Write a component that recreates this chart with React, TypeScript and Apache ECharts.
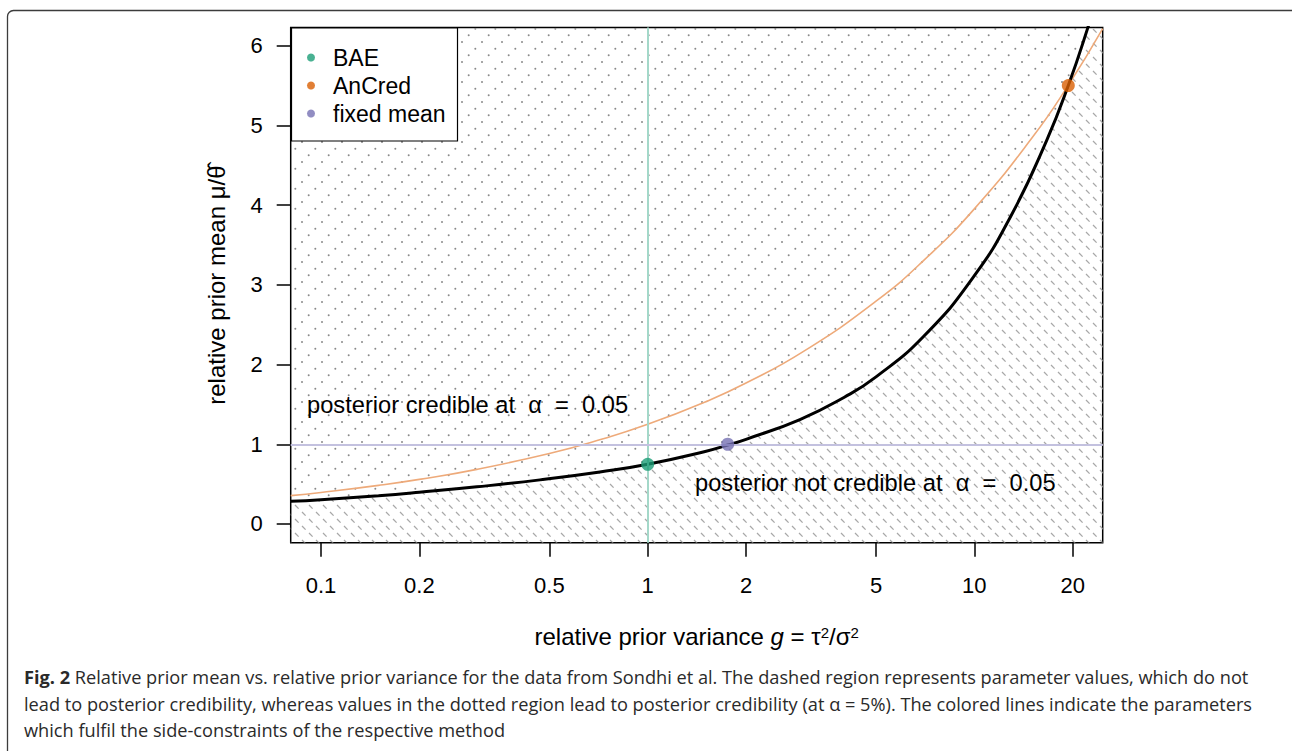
import React, { useEffect, useRef } from 'react';
import * as echarts from 'echarts';

const FONT = 'Liberation Sans, Arial, Helvetica, sans-serif';
const CAPTION_FONT = 'Open Sans, Noto Sans, sans-serif';

// axis extents (relative prior variance g on log scale, relative prior mean)
const xMin = 0.08077;
const xMax = 24.71;
const yMin = -0.235;
const yMax = 6.228;
const xTicks = [0.1, 0.2, 0.5, 1, 2, 5, 10, 20];
const yTicks = [0, 1, 2, 3, 4, 5, 6];

// credibility boundary (black curve)
const boundaryG = [0.08077, 0.1, 0.15, 0.2, 0.3, 0.468, 0.714, 1, 1.5, 1.758, 2, 2.925, 4, 5, 7, 10, 13, 16.64, 19.39, 22.23, 24.71];
const boundaryM = [0.285, 0.305, 0.355, 0.398, 0.466, 0.553, 0.652, 0.749, 0.91, 0.99, 1.062, 1.31, 1.59, 1.845, 2.355, 3.115, 3.88, 4.81, 5.5, 6.22, 6.84];

// AnCred side-constraint (orange curve)
const ancredG = [0.08077, 0.1, 0.15, 0.2, 0.3, 0.5, 0.7, 1, 1.5, 2, 3, 5, 7, 10, 15, 19.39, 24.71];
const ancredM = [0.355, 0.395, 0.484, 0.559, 0.685, 0.884, 1.046, 1.25, 1.531, 1.768, 2.165, 2.795, 3.307, 3.953, 4.841, 5.504, 6.214];

// method points
const baePoint = [1, 0.749];
const ancredPoint = [19.39, 5.5];
const fixedPoint = [1.758, 1.0];
const baeLineG = 1;
const fixedLineM = 1;

const COLORS = { bae: '#1B9E77', ancred: '#D95F02', fixed: '#7570B3' };

const captionLines = [
  '{b|Fig. 2} Relative prior mean vs. relative prior variance for the data from Sondhi et al. The dashed region represents parameter values, which do not',
  'lead to posterior credibility, whereas values in the dotted region lead to posterior credibility (at α = 5%). The colored lines indicate the parameters',
  'which fulfil the side-constraints of the respective method',
];

function dotTile() {
  const c = document.createElement('canvas');
  c.width = 20;
  c.height = 20;
  const ctx = c.getContext('2d')!;
  ctx.fillStyle = '#8a8a8a';
  const pts = [[2, 2], [15.33, 8.67], [8.67, 15.33]];
  pts.forEach(([x, y]) => {
    ctx.beginPath();
    ctx.arc(x, y, 1, 0, Math.PI * 2);
    ctx.fill();
  });
  return c;
}

function dashTile() {
  const c = document.createElement('canvas');
  c.width = 14;
  c.height = 14;
  const ctx = c.getContext('2d')!;
  ctx.strokeStyle = '#a8a8a8';
  ctx.lineWidth = 1.3;
  ctx.beginPath();
  ctx.moveTo(1, 1);
  ctx.lineTo(4.6, 4.6);
  ctx.moveTo(8, 8);
  ctx.lineTo(11.6, 11.6);
  ctx.stroke();
  return c;
}

export default function App() {
  const ref = useRef<HTMLDivElement>(null);

  useEffect(() => {
    const chart = echarts.init(ref.current!, null, { renderer: 'svg' });
    const boundary = boundaryG.map((g, i) => [g, boundaryM[i]]);
    const ancred = ancredG.map((g, i) => [g, ancredM[i]]);
    const dotPattern: any = { image: dotTile(), repeat: 'repeat', imageWidth: 20, imageHeight: 20 };
    const dashPattern: any = { image: dashTile(), repeat: 'repeat', imageWidth: 14, imageHeight: 14 };

    const tickStyle = { color: '#000', width: 1.5 };
    const textStyleBase = (size: number) => ({ fontSize: size, fontFamily: FONT, color: '#000' });

    chart.setOption({
      animation: false,
      backgroundColor: '#fff',
      grid: {
        left: 290.7,
        top: 27.5,
        width: 812,
        height: 515.2,
        show: true,
        borderColor: '#000',
        borderWidth: 1.5,
        backgroundColor: 'transparent',
        outerBoundsMode: 'none',
      },
      legend: {
        orient: 'vertical',
        left: 291.5,
        top: 28,
        padding: [18, 12, 16, 15.5],
        itemGap: 5,
        itemWidth: 8,
        itemHeight: 8,
        icon: 'circle',
        borderColor: '#000',
        borderWidth: 1.2,
        backgroundColor: '#fff',
        selectedMode: false,
        z: 10,
        textStyle: { fontSize: 23, color: '#000', fontFamily: FONT, padding: [0, 0, 0, 13] },
        data: ['BAE', 'AnCred', 'fixed mean'],
      },
      xAxis: [
        {
          type: 'log',
          min: xMin,
          max: xMax,
          position: 'bottom',
          show: false,
          axisLine: { show: false, onZero: false },
          splitLine: { show: false },
        },
        {
          type: 'value',
          min: Math.log10(xMin),
          max: Math.log10(xMax),
          position: 'bottom',
          axisLine: { show: false, onZero: false },
          splitLine: { show: false },
          axisTick: {
            show: true,
            length: 14,
            lineStyle: tickStyle,
            customValues: xTicks.map((t) => Math.log10(t)),
          },
          axisLabel: {
            show: true,
            margin: 32,
            ...textStyleBase(22),
            customValues: xTicks.map((t) => Math.log10(t)),
            formatter: (v: number) => String(parseFloat(Math.pow(10, v).toPrecision(3))),
          },
          name: '{t|relative prior variance }{i|g}{t| = τ}{s|2}{t|/σ}{s|2}',
          nameLocation: 'middle',
          nameGap: 82,
          nameTextStyle: {
            rich: {
              t: textStyleBase(24),
              i: { ...textStyleBase(24), fontStyle: 'italic' },
              s: { ...textStyleBase(15), verticalAlign: 'top' },
            },
          },
        },
      ],
      yAxis: {
        type: 'value',
        min: yMin,
        max: yMax,
        axisLine: { show: false, onZero: false },
        splitLine: { show: false },
        axisTick: { show: true, length: 14, lineStyle: tickStyle, customValues: yTicks },
        axisLabel: {
          show: true,
          margin: 28,
          ...textStyleBase(22),
          customValues: yTicks,
        },
        name: 'relative prior mean μ/θ\u0302',
        nameLocation: 'middle',
        nameGap: 62,
        nameTextStyle: textStyleBase(24),
      },
      series: [
        {
          type: 'line',
          name: 'not credible region',
          xAxisIndex: 0,
          data: boundary,
          smooth: 0.5,
          symbol: 'none',
          silent: true,
          lineStyle: { width: 0, opacity: 0 },
          areaStyle: { origin: 'start', color: dashPattern, opacity: 1 },
          z: 1,
        },
        {
          type: 'line',
          name: 'credible region',
          xAxisIndex: 0,
          data: boundary,
          smooth: 0.5,
          symbol: 'none',
          silent: true,
          lineStyle: { width: 0, opacity: 0 },
          areaStyle: { origin: 'end', color: dotPattern, opacity: 1 },
          z: 1,
        },
        {
          type: 'line',
          name: 'constraints',
          xAxisIndex: 0,
          data: [],
          silent: true,
          z: 2,
          markLine: {
            silent: true,
            symbol: ['none', 'none'],
            label: { show: false },
            emphasis: { disabled: true },
            data: [
              { xAxis: baeLineG, lineStyle: { color: '#a4d8c9', width: 2, type: 'solid' } },
              { yAxis: fixedLineM, lineStyle: { color: '#c3c1df', width: 2, type: 'solid' } },
            ],
          },
        },
        {
          type: 'line',
          name: 'AnCred line',
          xAxisIndex: 0,
          data: ancred,
          smooth: 0.5,
          symbol: 'none',
          silent: true,
          lineStyle: { color: '#eeaa7a', width: 1.6 },
          z: 3,
        },
        {
          type: 'line',
          name: 'boundary',
          xAxisIndex: 0,
          data: boundary,
          smooth: 0.5,
          symbol: 'none',
          silent: true,
          lineStyle: { color: '#000', width: 3 },
          z: 4,
        },
        {
          type: 'scatter',
          name: 'BAE',
          xAxisIndex: 0,
          data: [baePoint],
          symbolSize: 13,
          itemStyle: { color: COLORS.bae },
          z: 5,
        },
        {
          type: 'scatter',
          name: 'AnCred',
          xAxisIndex: 0,
          data: [ancredPoint],
          symbolSize: 13,
          itemStyle: { color: COLORS.ancred },
          z: 5,
        },
        {
          type: 'scatter',
          name: 'fixed mean',
          xAxisIndex: 0,
          data: [fixedPoint],
          symbolSize: 13,
          itemStyle: { color: COLORS.fixed },
          z: 5,
        },
      ],
      graphic: [
        {
          type: 'rect',
          shape: { x: 7.5, y: 10.5, width: 1290, height: 800, r: 6 },
          style: { fill: 'none', stroke: '#3c3c3c', lineWidth: 1.3 },
          silent: true,
          z: 0,
        },
        {
          type: 'text',
          x: 307,
          y: 405,
          z: 20,
          style: {
            text: 'posterior credible at  α  =  0.05',
            font: `23.7px ${FONT}`,
            fill: '#000',
            align: 'left',
            verticalAlign: 'middle',
            textAlign: 'left',
            textVerticalAlign: 'middle',
          },
        },
        {
          type: 'text',
          x: 695,
          y: 483,
          z: 20,
          style: {
            text: 'posterior not credible at  α  =  0.05',
            font: `23.7px ${FONT}`,
            fill: '#000',
            align: 'left',
            verticalAlign: 'middle',
            textAlign: 'left',
            textVerticalAlign: 'middle',
          },
        },
        ...captionLines.map((line, i) => ({
          type: 'text',
          x: 24,
          y: 677 + i * 26.5,
          z: 20,
          style: {
            text: line,
            font: `18.2px ${CAPTION_FONT}`,
            fill: '#2a2a2a',
            align: 'left',
            verticalAlign: 'middle',
            textAlign: 'left',
            textVerticalAlign: 'middle',
            rich: {
              b: { fontWeight: 'bold', fontSize: 18.2, fontFamily: CAPTION_FONT, fill: '#2a2a2a' },
            },
          },
        })),
      ],
    });
    return () => chart.dispose();
  }, []);

  return (
    <div
      ref={ref}
      style={{ position: 'absolute', left: 0, top: 0, width: 1292, height: 751, background: '#fff' }}
    />
  );
}
